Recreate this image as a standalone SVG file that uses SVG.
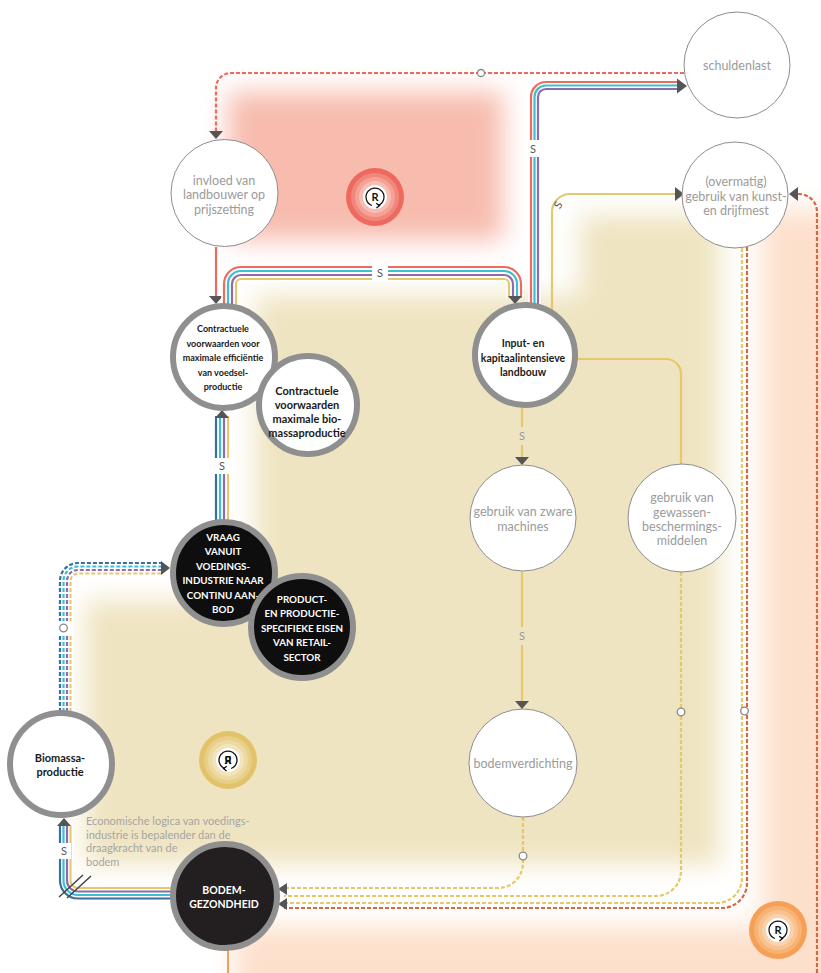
<svg xmlns="http://www.w3.org/2000/svg" width="821" height="973" viewBox="0 0 821 973">
<defs>
<style>
.t{font-family:Lato,"Open Sans",sans-serif;text-anchor:middle}
.lt{font-size:12.5px;fill:#9b9b9b}
.bk{font-weight:700;fill:#1a1a1a}
.wt{font-size:9.8px;font-weight:700;fill:#fff}
.thin{fill:#fff;stroke:#8c8c8c;stroke-width:1}
.ring{fill:#fff;stroke:#8f8f8f;stroke-width:6}
.dark{fill:#0e0e0e;stroke:#8f8f8f;stroke-width:6}
.w{fill:none;stroke:#fff;stroke-width:5.5}
.l{fill:none;stroke-width:2.2}
.d{stroke-dasharray:4 2}
.red{stroke:#ef6a5e}.cy{stroke:#3cbfd1}.pu{stroke:#8e6bab}.ye{stroke:#e6c86c}.bl{stroke:#396f9d}.or{stroke:#d1684a}
.ah{fill:#555}
.lbl{font-family:Lato,sans-serif;font-size:11px;fill:#555;text-anchor:middle}
.lbs{font-family:Lato,sans-serif;font-size:11px;fill:#9a9a9a;text-anchor:middle}
.o{fill:#fff;stroke:#888;stroke-width:1.3}
.sbg{fill:#fff}
.note{font-family:Lato,sans-serif;font-size:11px;fill:#a5a5a5}
</style>
<filter id="soft" x="-30%" y="-30%" width="160%" height="160%"><feGaussianBlur stdDeviation="13"/></filter>
<g id="rcore">
<circle r="12" fill="#fff"/>
<path d="M-3.1,8.5 A9,9 0 1 1 3.1,8.5" fill="none" stroke="#111" stroke-width="1.3"/>
<path d="M1.2,6.2 L4.6,8.6 L1.4,11" fill="none" stroke="#111" stroke-width="1.3"/>
<text y="4" font-family="Lato,sans-serif" font-size="11" font-weight="700" text-anchor="middle" fill="#111">R</text>
</g>
</defs>

<!-- soft background zones of the three loops -->
<g id="zones">
<rect x="228" y="92" width="275" height="148" fill="#f7bcae" filter="url(#soft)"/>
<polygon points="580,215 720,215 720,865 85,865 85,600 255,600 255,295 580,295" fill="#efe4c1" filter="url(#soft)"/>
<polygon points="762,210 860,210 860,1010 235,1010 235,927 762,927" fill="#fde0cc" filter="url(#soft)"/>
</g>

<!-- connectors -->
<g id="connectors">
<!-- schuldenlast -> invloed (dashed, opposite) -->
<path class="l d red" d="M684,73 H231 A15,15 0 0 0 216,88 V131"/>
<polygon class="ah" points="209,131 223,131 216,139"/>
<circle class="o" cx="481" cy="73" r="3.5"/>

<!-- invloed -> contractuele -->
<path class="l red" d="M216,247 V297"/>
<polygon class="ah" points="209,296 223,296 216,304"/>

<!-- contractuele -> input bundle -->
<g>
<path class="w" d="M224,310 V284 A17,17 0 0 1 241,267 H504 A17,17 0 0 1 521,284 V298"/>
<path class="w" d="M228,310 V284 A13,13 0 0 1 241,271 H504 A13,13 0 0 1 517,284 V298"/>
<path class="w" d="M232,310 V284 A9,9 0 0 1 241,275 H504 A9,9 0 0 1 513,284 V298"/>
<path class="w" d="M236,310 V284 A5,5 0 0 1 241,279 H504 A5,5 0 0 1 509,284 V298"/>
<path class="l red" d="M224,310 V284 A17,17 0 0 1 241,267 H504 A17,17 0 0 1 521,284 V298"/>
<path class="l cy" d="M228,310 V284 A13,13 0 0 1 241,271 H504 A13,13 0 0 1 517,284 V298"/>
<path class="l pu" d="M232,310 V284 A9,9 0 0 1 241,275 H504 A9,9 0 0 1 513,284 V298"/>
<path class="l ye" d="M236,310 V284 A5,5 0 0 1 241,279 H504 A5,5 0 0 1 509,284 V298"/>
<polygon class="ah" points="508,296 522,296 515,304"/>
<rect class="sbg" x="372" y="264" width="16" height="17"/>
<text class="lbl" x="380" y="277">S</text>
</g>

<!-- input -> schuldenlast bundle -->
<g>
<path class="w" d="M531,310 V97 A15,15 0 0 1 546,82 H678"/>
<path class="w" d="M534.5,310 V97 A11.5,11.5 0 0 1 546,85.5 H678"/>
<path class="w" d="M538,310 V97 A8,8 0 0 1 546,89 H678"/>
<path class="l red" d="M531,310 V97 A15,15 0 0 1 546,82 H678"/>
<path class="l cy" d="M534.5,310 V97 A11.5,11.5 0 0 1 546,85.5 H678"/>
<path class="l pu" d="M538,310 V97 A8,8 0 0 1 546,89 H678"/>
<polygon class="ah" points="677,78.5 677,93.5 687,86"/>
<rect class="sbg" x="526" y="140" width="15" height="17"/>
<text class="lbl" x="533" y="153">S</text>
</g>

<!-- input -> kunstmest -->
<path class="l ye" d="M552,312 V212 A18,18 0 0 1 570,194 H675"/>
<polygon class="ah" points="675,187 675,201 684,194"/>
<text class="lbl" transform="translate(558,205) rotate(-60)" y="4">S</text>

<!-- input -> gewasbescherming -->
<path class="l ye" d="M576,359 H666 A15,15 0 0 1 681,374 V465"/>

<!-- input -> zware machines -->
<path class="l ye" d="M522,407 V427 M522,445 V459"/>
<polygon class="ah" points="515,457 529,457 522,465"/>
<text class="lbs" x="522" y="440">S</text>

<!-- zware machines -> bodemverdichting -->
<path class="l ye" d="M522,572 V627 M522,645 V703"/>
<polygon class="ah" points="515,701 529,701 522,709"/>
<text class="lbs" x="522" y="640">S</text>

<!-- vraag -> contractuele bundle -->
<g>
<path class="w" d="M216,525 V416 M220,525 V416 M224,525 V416 M228,525 V416"/>
<path class="l bl" d="M216,525 V416"/>
<path class="l cy" d="M220,525 V416"/>
<path class="l pu" d="M224,525 V416"/>
<path class="l ye" d="M228,525 V416"/>
<polygon class="ah" points="215,418 229,418 222,410"/>
<rect class="sbg" x="214" y="458" width="16" height="16"/>
<text class="lbl" x="222" y="470">S</text>
</g>

<!-- biomassa -> vraag bundle (dashed, opposite) -->
<g>
<path class="w" d="M60,712 V581 A18,18 0 0 1 78,563 H162"/>
<path class="w" d="M63.5,712 V581 A14.5,14.5 0 0 1 78,566.5 H162"/>
<path class="w" d="M67,712 V581 A11,11 0 0 1 78,570 H162"/>
<path class="w" d="M70.5,712 V581 A7.5,7.5 0 0 1 78,573.5 H162"/>
<path class="l d bl" d="M60,712 V581 A18,18 0 0 1 78,563 H162"/>
<path class="l d cy" d="M63.5,712 V581 A14.5,14.5 0 0 1 78,566.5 H162"/>
<path class="l d pu" d="M67,712 V581 A11,11 0 0 1 78,570 H162"/>
<path class="l d ye" d="M70.5,712 V581 A7.5,7.5 0 0 1 78,573.5 H162"/>
<polygon class="ah" points="161,561 161,575 170,568"/>
<rect class="sbg" x="57" y="621" width="16" height="14"/>
<circle class="o" cx="63.5" cy="628" r="3.8"/>
</g>

<!-- bodemgezondheid -> biomassa bundle (delayed) -->
<g>
<path class="w" d="M172,898.5 H78 A18,18 0 0 1 60,880.5 V826"/>
<path class="w" d="M172,895 H78 A14.5,14.5 0 0 1 63.5,880.5 V826"/>
<path class="w" d="M172,891.5 H78 A11,11 0 0 1 67,880.5 V826"/>
<path class="w" d="M172,888 H78 A7.5,7.5 0 0 1 70.5,880.5 V826"/>
<path class="l bl" d="M172,898.5 H78 A18,18 0 0 1 60,880.5 V826"/>
<path class="l cy" d="M172,895 H78 A14.5,14.5 0 0 1 63.5,880.5 V826"/>
<path class="l pu" d="M172,891.5 H78 A11,11 0 0 1 67,880.5 V826"/>
<path class="l ye" d="M172,888 H78 A7.5,7.5 0 0 1 70.5,880.5 V826"/>
<polygon class="ah" points="57,826 71,826 64,818"/>
<rect class="sbg" x="57" y="843" width="14" height="16"/>
<text class="lbl" x="64" y="855">S</text>
<path d="M59,897 L83,875 M67,898 L91,876" stroke="#444" stroke-width="1.5"/>
</g>

<!-- dashed links into bodemgezondheid -->
<g>
<path class="l d ye" d="M523,817 V863 A25,25 0 0 1 498,888 H284"/>
<path class="l d ye" d="M681,572 V871 A25,25 0 0 1 656,896 H284"/>
<path class="l d ye" d="M742,248 V878 A25,25 0 0 1 717,903 H284"/>
<path class="l d or" d="M747,247 V883 A25,25 0 0 1 722,908 H284"/>
<circle class="o" cx="523" cy="856" r="3.8"/>
<circle class="o" cx="681" cy="712" r="3.8"/>
<circle class="o" cx="744.5" cy="711" r="3.8"/>
<polygon class="ah" points="287,883 287,895 278,889"/>
<polygon class="ah" points="287,898 287,910 278,904"/>
</g>

<!-- outer loop along the right edge -->
<path class="l d or" d="M817,973 V212 A18,18 0 0 0 799,194 H797"/>
<polygon class="ah" points="798,187 798,201 789,194"/>

<!-- bodemgezondheid downwards -->
<path d="M228,950 V973" stroke="#f5a05a" stroke-width="2" fill="none"/>
</g>

<!-- loop markers -->
<g id="loop-red" transform="translate(375,197)">
<circle r="29" fill="#ee6a5e"/><circle r="24" fill="#f1877c"/><circle r="20" fill="#f4a296"/><circle r="16" fill="#f7bdb3"/>
<use href="#rcore"/>
</g>
<g id="loop-yellow" transform="translate(228,760)">
<circle r="29" fill="#e2c26a"/><circle r="24" fill="#e8cf88"/><circle r="20" fill="#eddaa3"/><circle r="16" fill="#f2e4bf"/>
<use href="#rcore" transform="scale(-1,1)"/>
<text y="4" font-family="Lato,sans-serif" font-size="11" font-weight="700" text-anchor="middle" fill="#111">R</text>
</g>
<g id="loop-orange" transform="translate(778,930)">
<circle r="29" fill="#f5a057"/><circle r="24" fill="#f7b274"/><circle r="20" fill="#f9c291"/><circle r="16" fill="#fad2ad"/>
<use href="#rcore"/>
</g>

<!-- nodes -->
<g id="schuldenlast">
<circle class="thin" cx="737" cy="65" r="53"/>
<text class="t lt" x="737" y="69.5">schuldenlast</text>
</g>
<g id="invloed">
<circle class="thin" cx="224.5" cy="193" r="53.5"/>
<text class="t lt" x="224" y="184.5">invloed van</text>
<text class="t lt" x="224" y="199">landbouwer op</text>
<text class="t lt" x="224" y="213.5">prijszetting</text>
</g>
<g id="kunstmest">
<circle class="thin" cx="735" cy="195" r="53"/>
<text class="t lt" x="736" y="186">(overmatig)</text>
<text class="t lt" x="736" y="200.5">gebruik van kunst-</text>
<text class="t lt" x="736" y="215">en drijfmest</text>
</g>
<g id="contract-voedsel">
<circle class="ring" cx="224" cy="357" r="51"/>
<text class="t bk" font-size="9" x="223" y="332">Contractuele</text>
<text class="t bk" font-size="9" x="223" y="346.5">voorwaarden voor</text>
<text class="t bk" font-size="9" x="223" y="361">maximale efficiëntie</text>
<text class="t bk" font-size="9" x="223" y="375.5">van voedsel-</text>
<text class="t bk" font-size="9" x="223" y="390">productie</text>
</g>
<g id="contract-biomassa">
<circle class="ring" cx="308" cy="405" r="49"/>
<text class="t bk" font-size="11" x="307" y="395">Contractuele</text>
<text class="t bk" font-size="11" x="307" y="409">voorwaarden</text>
<text class="t bk" font-size="11" x="307" y="423">maximale bio-</text>
<text class="t bk" font-size="11" x="307" y="437">massaproductie</text>
</g>
<g id="input">
<circle class="ring" cx="525" cy="355" r="50"/>
<text class="t bk" font-size="10.5" x="523" y="347">Input- en</text>
<text class="t bk" font-size="10.5" x="523" y="362">kapitaalintensieve</text>
<text class="t bk" font-size="10.5" x="523" y="376">landbouw</text>
</g>
<g id="machines">
<circle class="thin" cx="523" cy="518" r="53"/>
<text class="t lt" x="523" y="516">gebruik van zware</text>
<text class="t lt" x="523" y="531">machines</text>
</g>
<g id="gewasbescherming">
<circle class="thin" cx="682" cy="518" r="54"/>
<text class="t lt" x="682" y="502">gebruik van</text>
<text class="t lt" x="682" y="516.5">gewassen-</text>
<text class="t lt" x="682" y="531">beschermings-</text>
<text class="t lt" x="682" y="545">middelen</text>
</g>
<g id="bodemverdichting">
<circle class="thin" cx="523" cy="763" r="54"/>
<text class="t lt" x="523" y="767.5">bodemverdichting</text>
</g>
<g id="vraag">
<circle class="dark" cx="224" cy="573" r="51"/>
<text class="t wt" x="223" y="540.5">VRAAG</text>
<text class="t wt" x="223" y="555">VANUIT</text>
<text class="t wt" x="223" y="569.5">VOEDINGS-</text>
<text class="t wt" x="223" y="584">INDUSTRIE NAAR</text>
<text class="t wt" x="223" y="598.5">CONTINU AAN-</text>
<text class="t wt" x="223" y="613">BOD</text>
</g>
<g id="retail">
<circle class="dark" cx="302" cy="627" r="51"/>
<text class="t wt" x="302" y="602.5">PRODUCT-</text>
<text class="t wt" x="302" y="617">EN PRODUCTIE-</text>
<text class="t wt" x="302" y="631.5">SPECIFIEKE EISEN</text>
<text class="t wt" x="302" y="646">VAN RETAIL-</text>
<text class="t wt" x="302" y="660.5">SECTOR</text>
</g>
<g id="biomassa">
<circle class="ring" cx="61" cy="764" r="51"/>
<text class="t bk" font-size="11" x="60" y="762">Biomassa-</text>
<text class="t bk" font-size="11" x="60" y="776">productie</text>
</g>
<g id="bodemgezondheid">
<circle class="dark" cx="225" cy="896" r="52" style="fill:#231f20"/>
<text class="t wt" style="font-size:10.5px" x="224" y="894">BODEM-</text>
<text class="t wt" style="font-size:10.5px" x="224" y="907.5">GEZONDHEID</text>
</g>

<!-- annotation -->
<g id="note">
<text class="note" x="86" y="825">Economische logica van voedings-</text>
<text class="note" x="86" y="838.5">industrie is bepalender dan de</text>
<text class="note" x="86" y="852">draagkracht van de</text>
<text class="note" x="86" y="865.5">bodem</text>
</g>
</svg>
